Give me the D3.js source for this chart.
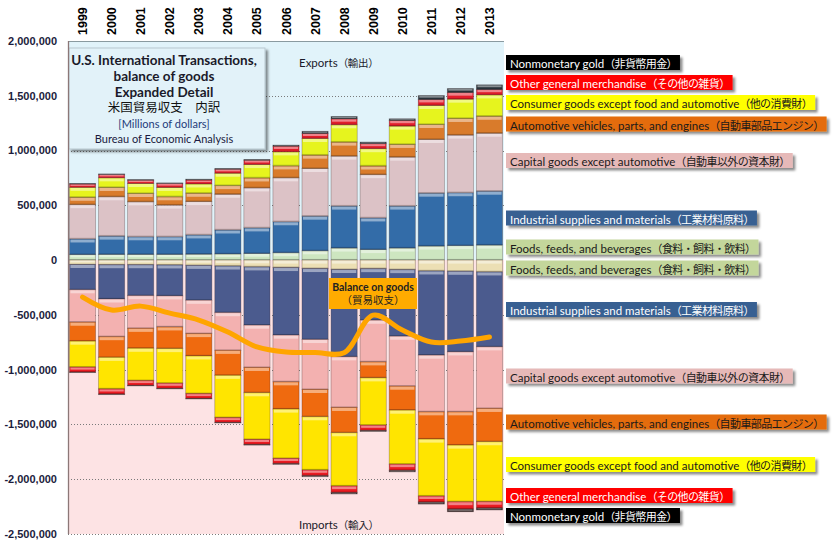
<!DOCTYPE html>
<html><head><meta charset="utf-8">
<script src="https://cdn.jsdelivr.net/npm/d3@7"></script>
<style>body{margin:0;background:#fff}svg{display:block}</style>
</head><body><svg id="c" width="835" height="548"></svg>
<script>
// ---------- DATA (millions of dollars) ----------
const years = ["1999","2000","2001","2002","2003","2004","2005","2006","2007","2008","2009","2010","2011","2012","2013"];
// Exports
const expFoods = [50000,52000,52000,52000,54000,56000,60000,67000,85000,110000,96000,110000,128000,132000,137000];
const expIndustrial = [143000,167000,161000,161000,176000,219000,234000,283000,316000,383000,289000,383000,483000,483000,492000];
const expCapital = [313000,359000,319000,289000,304000,326000,365000,401000,435000,456000,395000,447000,490000,526000,529000];
const expAuto = [67000,85000,76000,76000,76000,79000,91000,109000,122000,128000,79000,116000,137000,152000,155000];
const expConsumer = [91000,88000,91000,85000,85000,113000,122000,128000,152000,158000,158000,167000,173000,176000,195000];
const expOther = [30000,30000,30000,36000,36000,36000,39000,52000,46000,55000,46000,52000,55000,61000,49000];
const expGold = [6000,6000,6000,6000,8000,8000,8000,10000,20000,21000,15000,15000,36000,36000,43000];
// Imports
const impFoods = [40000,42000,42000,44000,48000,54000,62000,68000,77000,86000,78000,87000,99000,102000,108000];
const impIndustrial = [231000,313000,283000,283000,319000,426000,532000,617000,648000,797000,471000,608000,769000,736000,684000];
const impCapital = [296000,344000,298000,283000,304000,344000,386000,426000,456000,462000,380000,456000,517000,547000,562000];
const impAuto = [173000,189000,182000,198000,204000,228000,231000,249000,249000,231000,146000,219000,249000,304000,304000];
const impConsumer = [237000,288000,295000,316000,344000,386000,426000,450000,486000,486000,432000,493000,520000,517000,547000];
const impOther = [45000,47000,44000,47000,44000,44000,46000,48000,52000,60000,48000,56000,55000,66000,58000];
const impGold = [5000,5000,5000,5000,5000,5000,6000,7000,9000,13000,10000,14000,18000,25000,18000];
// Balance on goods
const balance = [-337000,-456000,-420000,-484000,-547000,-657000,-793000,-839000,-843000,-845000,-502000,-638000,-748000,-739000,-702000];
// Y ticks
const yTicks = [2000000,1500000,1000000,500000,0,-500000,-1000000,-1500000,-2000000,-2500000];

// Labels
const legendEn = ["Nonmonetary gold","Other general merchandise","Consumer goods except food and automotive","Automotive vehicles, parts, and engines","Capital goods except automotive","Industrial supplies and materials","Foods, feeds, and beverages",
  "Foods, feeds, and beverages","Industrial supplies and materials","Capital goods except automotive","Automotive vehicles, parts, and engines","Consumer goods except food and automotive","Other general merchandise","Nonmonetary gold"];
const legendJa = ["（非貨幣用金）","（その他の雑貨）","（他の消費財）","（自動車部品エンジン）","（自動車以外の資本財）","（工業材料原料）","（食料・飼料・飲料）",
  "（食料・飼料・飲料）","（工業材料原料）","（自動車以外の資本財）","（自動車部品エンジン）","（他の消費財）","（その他の雑貨）","（非貨幣用金）"];

// ---------- STYLE / LAYOUT ----------
const legendBg = ["#000000","#ff0000","#ffff00","#e46c0a","#e6b9b8","#376092","#c3d69b","#c3d69b","#376092","#e6b9b8","#e46c0a","#ffff00","#ff0000","#000000"];
const legendFg = ["#ffffff","#ffffff","#1a1a1a","#1a1a1a","#1a1a1a","#ffffff","#1a1a1a","#1a1a1a","#ffffff","#1a1a1a","#1a1a1a","#1a1a1a","#ffffff","#ffffff"];
const legendY = [62.5,82.5,102.5,124,160.5,218,247,268,309.5,376,422,464.5,495.5,515.5];

const keys = ["eF","eI","eC","eA","eS","eO","eG","iF","iI","iC","iA","iS","iO","iG"];
const colors = {eF:"#cde6c0",eI:"#336ca8",eC:"#dcc2c6",eA:"#d97b2b",eS:"#e6f41e",eO:"#e21d2a",eG:"#2b353d",
                iF:"#ecdfb4",iI:"#4b5b8e",iC:"#f3b1b0",iA:"#ef6a0f",iS:"#ffe500",iO:"#ea1b22",iG:"#3a2a2a"};

const table = years.map((yr,i)=>({year:yr,
  eF:expFoods[i],eI:expIndustrial[i],eC:expCapital[i],eA:expAuto[i],eS:expConsumer[i],eO:expOther[i],eG:expGold[i],
  iF:-impFoods[i],iI:-impIndustrial[i],iC:-impCapital[i],iA:-impAuto[i],iS:-impConsumer[i],iO:-impOther[i],iG:-impGold[i]}));

const svg = d3.select("#c");
const defs = svg.append("defs");
const f = defs.append("filter").attr("id","sh").attr("x","-10%").attr("y","-30%").attr("width","130%").attr("height","180%");
f.append("feDropShadow").attr("dx",2.5).attr("dy",2.5).attr("stdDeviation",1.2).attr("flood-color","#000").attr("flood-opacity",0.45);

const L=68,R=504;
const x = d3.scaleBand().domain(years).range([L,R]).paddingInner(0.1).paddingOuter(0.05);
const y = d3.scaleLinear().domain([-2500000,2000000]).range([534,41]);

// backgrounds
svg.append("rect").attr("x",L).attr("y",y(2000000)).attr("width",R-L).attr("height",y(0)-y(2000000)).attr("fill","#e1f3fa");
svg.append("rect").attr("x",L).attr("y",y(0)).attr("width",R-L).attr("height",y(-2500000)-y(0)).attr("fill","#fde3e4");

// gridlines
svg.append("g").selectAll("line").data(yTicks.filter(t=>t!==0 && t!==2000000)).join("line")
  .attr("x1",L).attr("x2",R).attr("y1",d=>Math.round(y(d))+0.5).attr("y2",d=>Math.round(y(d))+0.5)
  .attr("stroke","#7a7a7a").attr("stroke-width",1).attr("stroke-dasharray","1,2");
svg.append("line").attr("x1",L).attr("x2",R).attr("y1",Math.round(y(2000000))+0.5).attr("y2",Math.round(y(2000000))+0.5)
  .attr("stroke","#8a9aa0").attr("stroke-width",1.2);

// axis labels
const fmt = d3.format(",");
svg.append("g").selectAll("text").data(yTicks).join("text")
  .attr("x",57).attr("y",d=>y(d)).attr("dy","0.35em").attr("text-anchor","end")
  .attr("font-family","Liberation Sans, Arial, sans-serif").attr("font-weight","bold").attr("font-size",11)
  .attr("fill","#1c1c3c").text(d=>fmt(d).replace("−","-"));

svg.append("g").selectAll("text").data(years).join("text")
  .attr("transform",d=>`translate(${x(d)+x.bandwidth()/2+4.5},35) rotate(-90)`)
  .attr("text-anchor","start")
  .attr("font-family","Liberation Sans, Arial, sans-serif").attr("font-weight","bold").attr("font-size",12.5)
  .attr("fill","#000").text(d=>d);

// title box
const tb = svg.append("g");
tb.append("rect").attr("x",69).attr("y",48).attr("width",196).attr("height",101)
  .attr("fill","#e2f2f9").attr("stroke","#b8c8cf").attr("stroke-width",1).attr("filter","url(#sh)");
const titleLines = [
  {t:"U.S. International Transactions,",y:60,s:13.5,w:"bold",c:"#1a1a2a"},
  {t:"balance of goods",y:76,s:13.5,w:"bold",c:"#1a1a2a"},
  {t:"Expanded Detail",y:92,s:13.5,w:"bold",c:"#1a1a2a"},
  {t:"米国貿易収支　内訳",y:108,s:12.5,w:"normal",c:"#111"},
  {t:"[Millions of dollars]",y:124,s:11,w:"normal",c:"#1f3b7a"},
  {t:"Bureau of Economic Analysis",y:139,s:11,w:"normal",c:"#1a1a40"}];
tb.selectAll("text").data(titleLines).join("text")
  .attr("x",164).attr("y",d=>d.y).attr("dy","0.35em").attr("text-anchor","middle")
  .attr("font-family","Lato, 'Noto Sans CJK JP', sans-serif").attr("font-size",d=>d.s).attr("font-weight",d=>d.w)
  .attr("fill",d=>d.c).text(d=>d.t);

// stacked bars
const stack = d3.stack().keys(keys).offset(d3.stackOffsetDiverging);
const series = stack(table);
const bw = x.bandwidth();
const gBars = svg.append("g");
series.forEach(s=>{
  const g = gBars.append("g");
  s.forEach(d=>{
    const y0 = y(Math.max(d[0],d[1])), y1 = y(Math.min(d[0],d[1]));
    const h = y1-y0; if (h<=0) return;
    const xx = x(d.data.year);
    g.append("rect").attr("x",xx).attr("y",y0).attr("width",bw).attr("height",h)
      .attr("fill",colors[s.key]).attr("stroke","rgba(60,40,40,0.35)").attr("stroke-width",0.8);
    const hh = Math.min(3,h*0.4);
    g.append("rect").attr("x",xx+1).attr("y",y0+0.5).attr("width",bw-2).attr("height",hh)
      .attr("fill","#fff").attr("opacity",0.45);
    g.append("rect").attr("x",xx).attr("y",y1-Math.min(1.2,h*0.2)).attr("width",bw).attr("height",Math.min(1.2,h*0.2))
      .attr("fill","#000").attr("opacity",0.18);
  });
});

// left axis line
svg.append("line").attr("x1",L+0.5).attr("x2",L+0.5).attr("y1",y(2000000)).attr("y2",y(-2500000))
  .attr("stroke","#8c7777").attr("stroke-width",1.3);

// balance line
const line = d3.line().x((d,i)=>x(years[i])+bw/2).y(d=>y(d)).curve(d3.curveCatmullRom.alpha(0.5));
svg.append("path").datum(balance).attr("d",line).attr("fill","none")
  .attr("stroke","#ffa500").attr("stroke-width",5).attr("stroke-linecap","round").attr("stroke-linejoin","round");

// balance label
const bl = svg.append("g");
bl.append("rect").attr("x",329).attr("y",278).attr("width",88).attr("height",31).attr("fill","#ffab00");
bl.append("text").attr("x",373).attr("y",287).attr("dy","0.35em").attr("text-anchor","middle")
  .attr("font-family","Lato, sans-serif").attr("font-size",10.5).attr("font-weight","bold").attr("fill","#222").text("Balance on goods");
bl.append("text").attr("x",373).attr("y",300.5).attr("dy","0.35em").attr("text-anchor","middle")
  .attr("font-family","'Noto Sans CJK JP', sans-serif").attr("font-size",10.5).attr("fill","#222").text("（貿易収支）");

// Exports / Imports labels
function enJa(sel, en, ja, size, jaSize, ls){
  sel.append("tspan").attr("font-family","Lato, sans-serif").attr("font-size",size).text(en);
  sel.append("tspan").attr("font-family","'Noto Sans CJK JP', sans-serif").attr("font-size",jaSize)
    .attr("letter-spacing",ls).text(ja);
}
enJa(svg.append("text").attr("x",299).attr("y",61).attr("dy","0.35em").attr("fill","#1a1a2a"),"Exports","（輸出）",11.5,10.5,-0.3);
enJa(svg.append("text").attr("x",299).attr("y",523).attr("dy","0.35em").attr("fill","#1a1a2a"),"Imports","（輸入）",11.5,10.5,-0.3);

// right-side labels
const gl = svg.append("g");
legendEn.forEach((en,i)=>{
  const g = gl.append("g");
  const r = g.append("rect");
  const t = g.append("text").attr("x",510).attr("y",legendY[i]).attr("dy","0.36em").attr("fill",legendFg[i]);
  enJa(t,en,legendJa[i],11.5,11,-0.6);
  const w = t.node().getComputedTextLength();
  r.attr("x",506).attr("y",legendY[i]-7.5).attr("width",w+7).attr("height",15)
   .attr("fill",legendBg[i]).attr("filter","url(#sh)");
});
</script></body></html>
